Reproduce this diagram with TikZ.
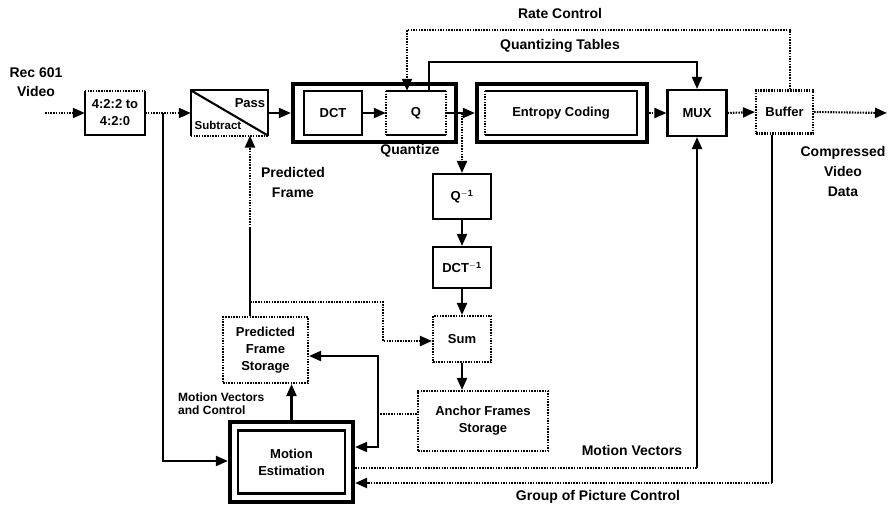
\documentclass[tikz,border=0pt]{standalone}
\usepackage{fontspec}
\setmainfont{Liberation Sans}
\usetikzlibrary{arrows.meta}
\begin{document}
\begin{tikzpicture}[x=1pt,y=-1pt,
  every node/.style={font=\bfseries\fontsize{13}{17}\selectfont, align=center, inner sep=0pt},
  lbl/.style={font=\bfseries\fontsize{14}{19}\selectfont},
  smlbl/.style={font=\bfseries\fontsize{12}{13}\selectfont, align=left},
  wire/.style={line width=2.1pt},
  dotl/.style={line width=2.1pt, dash pattern=on 1.5pt off 1.2pt},
  arr/.style={-{Triangle[length=12pt,width=10pt]}},
  blk/.style={draw, line width=2.1pt},
  dotblk/.style={draw, line width=2.1pt, dash pattern=on 1.5pt off 1.2pt},
  outer/.style={draw, line width=4.2pt},
  bare/.style={draw=none}
]
\useasboundingbox (0,0) rectangle (894,506);

% ---- forward path ----
\node[bare, minimum width=60pt, minimum height=44pt] (conv) at (115,113) {4:2:2 to\\4:2:0};
\node[bare, minimum width=77pt, minimum height=45pt] (sub) at (229.5,113) {};
\node[outer, minimum width=163pt, minimum height=58pt] (qo) at (374.5,113) {};
\node[blk, minimum width=58pt, minimum height=44pt] (dct) at (333,113) {DCT};
\node[bare, minimum width=60pt, minimum height=44pt] (q) at (416,113) {Q};
\node[outer, minimum width=170pt, minimum height=58pt] (eo) at (562,113) {};
\node[bare, minimum width=152pt, minimum height=44pt] (ent) at (561,113) {Entropy Coding};
\node[blk, minimum width=59pt, minimum height=46pt] (mux) at (697,113) {MUX};
\node[dotblk, minimum width=57pt, minimum height=43pt] (buf) at (784.5,112) {Buffer};

% ---- reconstruction loop ----
\node[blk, minimum width=58pt, minimum height=45pt] (qinv) at (462,196.5) {Q$^{\mathbf{-1}}$};
\node[blk, minimum width=58pt, minimum height=41pt] (dctinv) at (462,267.5) {DCT$^{\mathbf{-1}}$};
\node[dotblk, minimum width=58pt, minimum height=46pt] (sum) at (462,339) {Sum};
\node[dotblk, minimum width=130pt, minimum height=60pt] (anc) at (483,421) {Anchor Frames\\Storage};
\node[dotblk, minimum width=85pt, minimum height=66pt] (pfs) at (265.5,350) {Predicted\\Frame\\Storage};
\node[outer, minimum width=123pt, minimum height=80pt] (meo) at (291.5,462) {};
\node[blk, minimum width=107pt, minimum height=63pt] (me) at (291.5,462) {Motion\\Estimation};

% ---- borders with mixed line styles ----
\draw[dotl] (conv.north west) -- (conv.north east);
\draw[wire] (conv.north east) -- (conv.south east) -- (conv.south west) -- (conv.north west);
\draw[wire] (sub.south west) -- (sub.north west) -- (sub.north east) -- (sub.south east);
\draw[dotl] (sub.south west) -- (sub.south east);
\node[font=\bfseries\fontsize{11.5}{13}\selectfont] (lsub) at (218,125) {Subtract};
\node (lpass) at (250,103) {Pass};
\draw[wire] (sub.north west) -- (sub.south east);
\draw[wire] (q.north west) -- (q.north east);
\draw[wire] (q.south west) -- (q.south east);
\draw[dotl] (q.north west) -- (q.south west);
\draw[dotl] (q.north east) -- (q.south east);
\draw[dotl] (ent.north west) -- (ent.south west);
\draw[wire] (ent.north west) -- (ent.north east) -- (ent.south east) -- (ent.south west);

% ---- junctions and bends ----
\coordinate (in) at (45,113);
\coordinate (j1) at (163,113);
\coordinate (j1d) at (163,461);
\coordinate (j2) at (462,113);
\coordinate (out) at (887,113);
\coordinate (rc1) at (790,30);
\coordinate (rc2) at (407,30);
\coordinate (qt1) at (429,62);
\coordinate (qt2) at (697,62);
\coordinate (pf1) at (250,302);
\coordinate (pfm) at (250,228);
\coordinate (pf2) at (383,302);
\coordinate (pf3) at (383,341);
\coordinate (af1) at (378,414);
\coordinate (af2) at (378,356);
\coordinate (af3) at (378,447);
\coordinate (mv1) at (697,468);
\coordinate (gp1) at (772,483);

% ---- connectors ----
\draw[dotl,arr] (in) -- (conv.west);
\draw[dotl,arr] (conv.east) -- (sub.west);
\draw[wire,arr] (j1) -- (j1d) -- (meo.west |- j1d);
\draw[wire,arr] (sub.east) -- (qo.west);
\draw[wire,arr] (dct.east) -- (q.west);
\draw[wire,arr] (q.east) -- (eo.west);
\draw[dotl,arr] (j2) -- (qinv.north);
\draw[wire,arr] (qinv.south) -- (dctinv.north);
\draw[wire,arr] (dctinv.south) -- (sum.north);
\draw[wire,arr] (sum.south) -- (sum.south |- anc.north);
\draw[dotl,arr] (eo.east) -- (mux.west);
\draw[dotl,arr] (mux.east) -- (buf.west);
\draw[dotl,arr] (buf.east) -- (out);

% rate control and quantizing tables
\draw[dotl,arr] (buf.north -| rc1) -- (rc1) -- (rc2) -- (rc2 |- q.north);
\draw[wire,arr] (q.north -| qt1) -- (qt1) -- (qt2) -- (mux.north);

% predicted frame feedback
\draw[wire] (pfs.north -| pf1) -- (pf1) -- (pfm);
\draw[dotl,arr] (pfm) -- (pfm |- sub.south);
\draw[dotl,arr] (pf1) -- (pf2) -- (pf3) -- (sum.west |- pf3);

% motion estimation links
\draw[wire,arr] (meo.north) -- (meo.north |- pfs.south);
\draw[dotl] (anc.west |- af1) -- (af1);
\draw[wire,arr] (af1) -- (af2) -- (pfs.east |- af2);
\draw[wire,arr] (af1) -- (af3) -- (meo.east |- af3);
\draw[dotl] (meo.east |- mv1) -- (mv1);
\draw[wire,arr] (mv1) -- (mux.south);
\draw[wire] (buf.south -| gp1) -- (gp1);
\draw[dotl,arr] (gp1) -- (meo.east |- gp1);

% ---- labels ----
\node[lbl] (lrec) at (36,82) {Rec 601\\Video};
\node[lbl] (lrate) at (560,13) {Rate Control};
\node[lbl] (lqt) at (560,46) {Quantizing Tables};
\node[lbl] (lquant) at (410,151) {Quantize};
\node[lbl, font=\bfseries\fontsize{14}{20}\selectfont] (lpf) at (293,182) {Predicted\\Frame};
\node[lbl, font=\bfseries\fontsize{14}{20}\selectfont] (lcvd) at (843,171) {Compressed\\Video\\Data};
\node[smlbl, anchor=west] (lmvc) at (178,403.5) {Motion Vectors\\and Control};
\node[lbl] (lmv) at (632,450) {Motion Vectors};
\node[lbl] (lgop) at (598,497) {Group of Picture Control};
\end{tikzpicture}
\end{document}
